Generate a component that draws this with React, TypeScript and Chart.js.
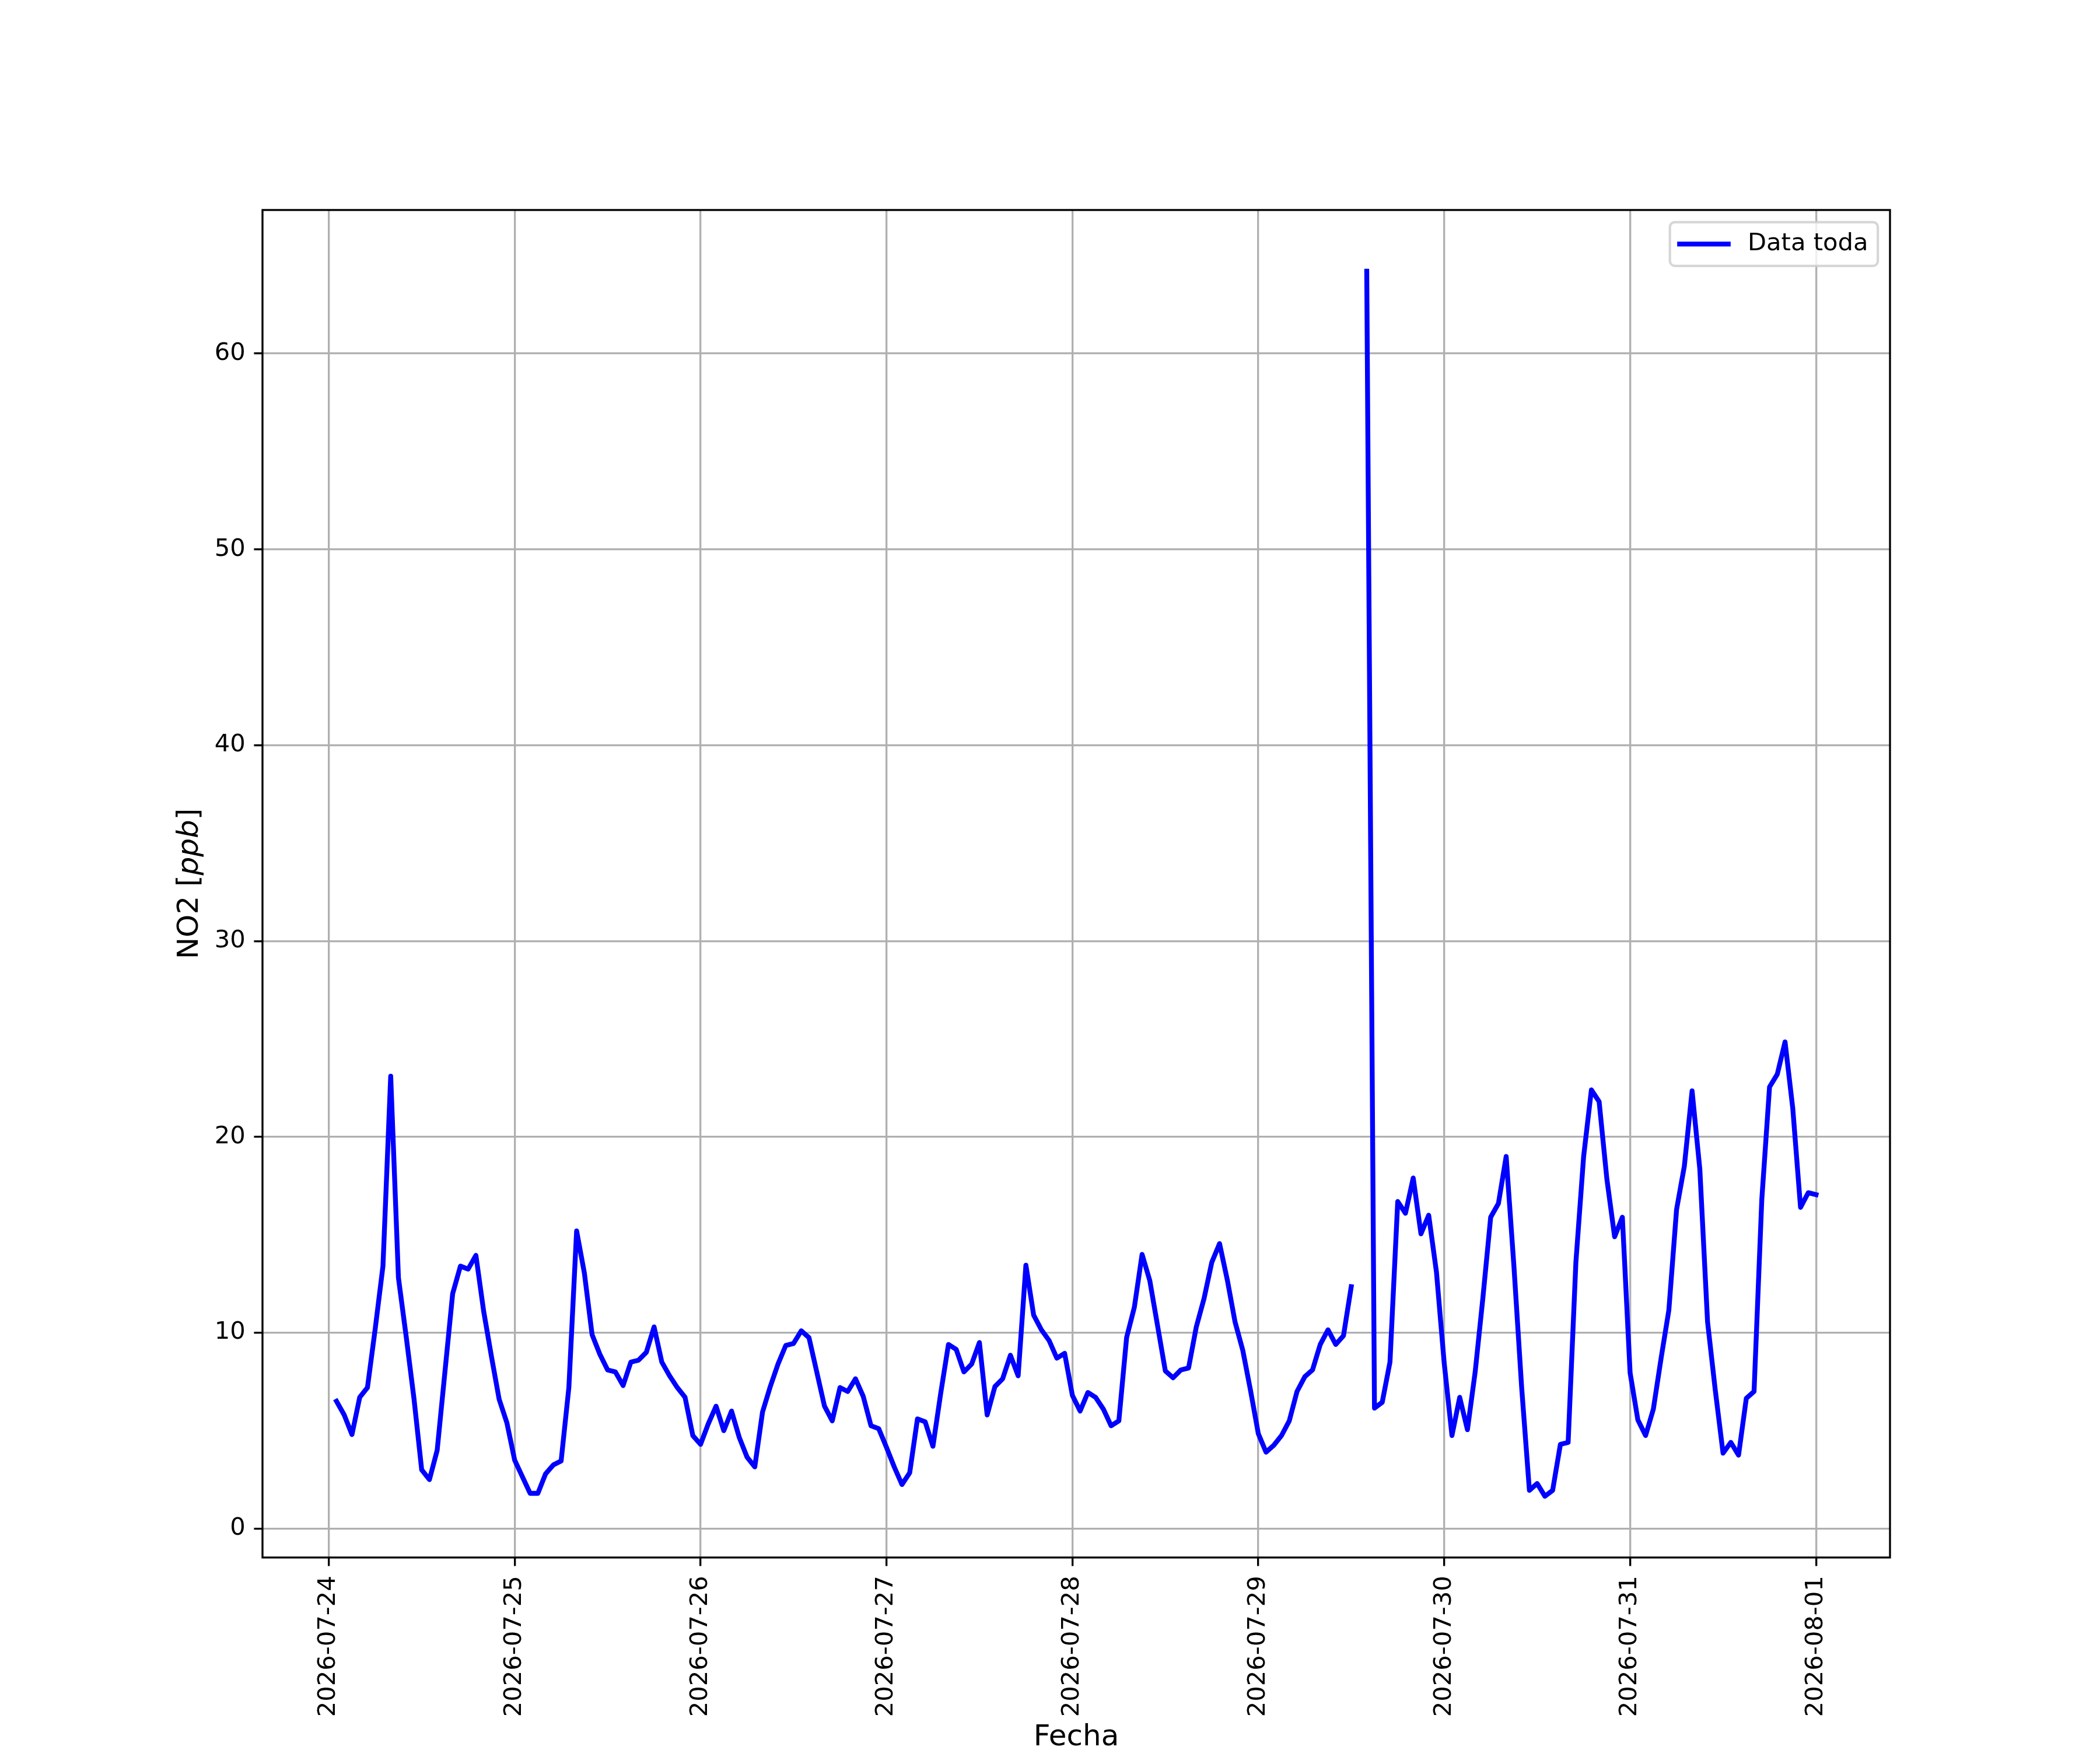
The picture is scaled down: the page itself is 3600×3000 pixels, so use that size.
import { useEffect, useRef } from 'react'
import { Chart, registerables } from 'chart.js'

Chart.register(...registerables)

// one label per day, the ticks sit at 00:00 of each day
const dayLabels = [
  '2026-07-24', '2026-07-25', '2026-07-26', '2026-07-27', '2026-07-28',
  '2026-07-29', '2026-07-30', '2026-07-31', '2026-08-01',
]

// hourly NO2 [ppb]; 07-24 starts at 01:00, the rest at 00:00
const no2Jul24 = [6.5, 5.8, 4.8, 6.7, 7.2, 10.2, 13.4, 23.1, 12.8, 9.8, 6.65, 3.0, 2.5, 4.0, 8.0, 12.0, 13.4, 13.25, 13.95, 11.1, 8.8, 6.6, 5.4]
const no2Jul25 = [3.5, 2.65, 1.8, 1.8, 2.8, 3.25, 3.45, 7.2, 15.2, 13.05, 9.9, 8.9, 8.1, 8.0, 7.3, 8.5, 8.6, 9.0, 10.3, 8.5, 7.8, 7.2, 6.7, 4.75]
const no2Jul26 = [4.3, 5.35, 6.25, 5.0, 6.0, 4.65, 3.65, 3.15, 5.95, 7.25, 8.4, 9.35, 9.45, 10.1, 9.75, 8.0, 6.25, 5.5, 7.2, 7.0, 7.65, 6.75, 5.25, 5.1]
const no2Jul27 = [4.15, 3.15, 2.25, 2.85, 5.6, 5.45, 4.2, 6.9, 9.4, 9.15, 8.0, 8.4, 9.5, 5.8, 7.25, 7.65, 8.85, 7.8, 13.45, 10.9, 10.15, 9.6, 8.7, 8.95]
const no2Jul28 = [6.8, 6.0, 6.95, 6.7, 6.1, 5.25, 5.5, 9.75, 11.3, 14.0, 12.65, 10.35, 8.05, 7.7, 8.1, 8.2, 10.3, 11.75, 13.6, 14.55, 12.7, 10.55, 9.1, 7.05]
const no2Jul29 = [4.85, 3.9, 4.25, 4.75, 5.5, 7.0, 7.75, 8.1, 9.4, 10.15, 9.4, 9.85, 12.35, null, 64.2, 6.15, 6.45, 8.5, 16.7, 16.1, 17.9, 15.05, 16.0, 13.1]
const no2Jul30 = [8.45, 4.75, 6.7, 5.05, 8.0, 11.8, 15.9, 16.6, 19.0, 13.4, 7.2, 1.95, 2.3, 1.65, 1.95, 4.3, 4.4, 13.6, 19.0, 22.4, 21.8, 17.85, 14.9, 15.9]
const no2Jul31 = [7.95, 5.55, 4.75, 6.1, 8.7, 11.15, 16.3, 18.5, 22.35, 18.35, 10.55, 7.05, 3.85, 4.4, 3.75, 6.65, 7.0, 16.8, 22.55, 23.2, 24.85, 21.45, 16.4, 17.15]
const no2Aug01 = [17.05]

const dailySeries: (number | null)[][] = [no2Jul24, no2Jul25, no2Jul26, no2Jul27, no2Jul28, no2Jul29, no2Jul30, no2Jul31, no2Aug01]
const firstHour = [1, 0, 0, 0, 0, 0, 0, 0, 0]

const yTicks = [0, 10, 20, 30, 40, 50, 60]

// matplotlib at 300 dpi: 1pt = 300/72 px
const PT = 300 / 72
const W = 3600
const H = 3000
const AX = { left: 0.125 * W, right: 0.9 * W, top: 0.12 * H, bottom: 0.89 * H }
const FONT = '"DejaVu Sans", "Liberation Sans", sans-serif'
const TICK_PX = 10 * PT
const LABEL_PX = 12 * PT

const mplDecor = {
  id: 'mplDecor',
  afterDraw(chart: Chart) {
    const { ctx, chartArea: a } = chart
    ctx.save()

    // all four spines
    ctx.strokeStyle = '#000'
    ctx.lineWidth = 0.8 * PT
    ctx.strokeRect(a.left, a.top, a.right - a.left, a.bottom - a.top)

    // legend, upper right
    const ds = chart.data.datasets[0] as any
    ctx.font = `${TICK_PX}px ${FONT}`
    const textW = ctx.measureText(ds.label).width
    const pad = 0.5 * TICK_PX
    const boxW = 0.4 * TICK_PX * 2 + 2.0 * TICK_PX + 0.8 * TICK_PX + textW
    const boxH = 0.4 * TICK_PX * 2 + TICK_PX * 1.0
    const bx = a.right - pad - boxW
    const by = a.top + pad
    ctx.beginPath()
    ctx.roundRect(bx, by, boxW, boxH, 0.2 * TICK_PX)
    ctx.fillStyle = 'rgba(255,255,255,0.8)'
    ctx.fill()
    ctx.strokeStyle = 'rgba(204,204,204,0.8)'
    ctx.lineWidth = 1.0 * PT
    ctx.stroke()
    const midY = by + boxH / 2
    const hx = bx + 0.4 * TICK_PX
    ctx.beginPath()
    ctx.moveTo(hx, midY)
    ctx.lineTo(hx + 2.0 * TICK_PX, midY)
    ctx.strokeStyle = ds.borderColor
    ctx.lineWidth = ds.borderWidth
    ctx.lineCap = 'square'
    ctx.stroke()
    ctx.fillStyle = '#000'
    ctx.textBaseline = 'middle'
    ctx.textAlign = 'left'
    ctx.fillText(ds.label, hx + 2.8 * TICK_PX, midY)

    // y label with italic unit, like mathtext
    const parts = [
      { t: 'NO2 [', f: `${LABEL_PX}px ${FONT}` },
      { t: 'ppb', f: `italic ${LABEL_PX}px ${FONT}` },
      { t: ']', f: `${LABEL_PX}px ${FONT}` },
    ]
    let total = 0
    for (const p of parts) {
      ctx.font = p.f
      total += ctx.measureText(p.t).width
    }
    ctx.translate(339, (a.top + a.bottom) / 2)
    ctx.rotate(-Math.PI / 2)
    ctx.textBaseline = 'alphabetic'
    let x = -total / 2
    for (const p of parts) {
      ctx.font = p.f
      ctx.fillText(p.t, x, 0)
      x += ctx.measureText(p.t).width
    }
    ctx.restore()
  },
}

export default function App() {
  const canvasRef = useRef<HTMLCanvasElement>(null)
  const chartRef = useRef<Chart | null>(null)

  useEffect(() => {
    if (!canvasRef.current) return
    document.body.style.margin = '0'

    if (chartRef.current) {
      chartRef.current.destroy()
    }

    // x in hours since 2026-07-24 00:00
    const points = dailySeries.flatMap((vals, d) =>
      vals.map((v, i) => ({ x: d * 24 + firstHour[d] + i, y: v }))
    )
    const xs = points.map((p) => p.x)
    const ys = points.filter((p) => p.y !== null).map((p) => p.y as number)
    const xMin = Math.min(...xs)
    const xMax = Math.max(...xs)
    const yMin = Math.min(...ys)
    const yMax = Math.max(...ys)
    const xm = (xMax - xMin) * 0.05
    const ym = (yMax - yMin) * 0.05

    const ctx = canvasRef.current.getContext('2d')
    if (!ctx) return

    chartRef.current = new Chart(ctx, {
      type: 'line',
      data: {
        datasets: [
          {
            label: 'Data toda',
            data: points as any,
            borderColor: '#0000ff',
            borderWidth: 2 * PT,
            borderJoinStyle: 'round',
            borderCapStyle: 'square',
            pointRadius: 0,
            tension: 0,
            spanGaps: false,
            fill: false,
          },
        ],
      },
      options: {
        animation: false,
        responsive: false,
        devicePixelRatio: 1,
        layout: {
          padding: { left: 0, right: W - AX.right, top: AX.top, bottom: 0 },
        },
        plugins: {
          legend: { display: false },
          tooltip: { enabled: false },
        },
        scales: {
          x: {
            type: 'linear',
            min: xMin - xm,
            max: xMax + xm,
            afterBuildTicks: (scale) => {
              scale.ticks = dayLabels.map((_, i) => ({ value: i * 24 }))
            },
            afterFit: (scale) => {
              scale.height = H - AX.bottom
            },
            ticks: {
              autoSkip: false,
              minRotation: 90,
              maxRotation: 90,
              padding: 3.5 * PT + 2,
              color: '#000',
              font: { family: FONT, size: TICK_PX },
              callback: (value) => dayLabels[Math.round(Number(value) / 24)] ?? '',
            },
            grid: {
              color: '#b0b0b0',
              lineWidth: 0.8 * PT,
              tickLength: 3.5 * PT,
              tickColor: '#000',
              tickWidth: 0.8 * PT,
            },
            border: { display: false },
            title: {
              display: true,
              text: 'Fecha',
              color: '#000',
              font: { family: FONT, size: LABEL_PX, lineHeight: 1 },
              padding: { top: 0, bottom: -4 },
            },
          },
          y: {
            type: 'linear',
            min: yMin - ym,
            max: yMax + ym,
            afterBuildTicks: (scale) => {
              scale.ticks = yTicks.map((v) => ({ value: v }))
            },
            afterFit: (scale) => {
              scale.width = AX.left
            },
            ticks: {
              padding: 3.5 * PT,
              color: '#000',
              font: { family: FONT, size: TICK_PX },
            },
            grid: {
              color: '#b0b0b0',
              lineWidth: 0.8 * PT,
              tickLength: 3.5 * PT,
              tickColor: '#000',
              tickWidth: 0.8 * PT,
            },
            border: { display: false },
          },
        },
      },
      plugins: [mplDecor],
    })

    return () => {
      if (chartRef.current) {
        chartRef.current.destroy()
        chartRef.current = null
      }
    }
  }, [])

  return (
    <div style={{ width: W, height: H }}>
      <canvas ref={canvasRef} width={W} height={H} style={{ width: W, height: H }}></canvas>
    </div>
  )
}
